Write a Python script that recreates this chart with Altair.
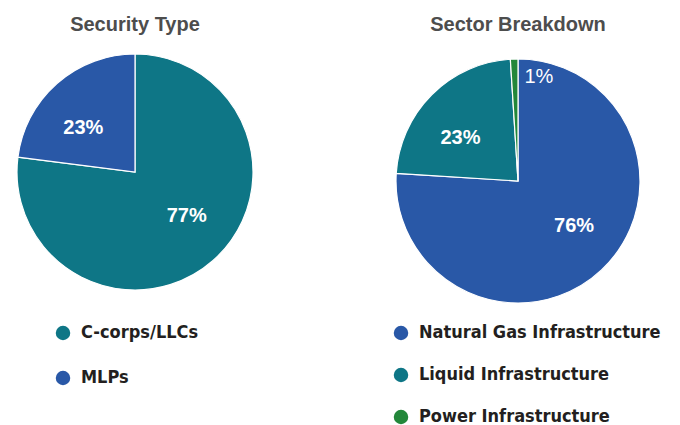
import altair as alt
import pandas as pd
import math

# ---- data ----
sec_types = ["C-corps/LLCs", "MLPs"]
sec_values = [77, 23]
sec_colors = ["#0e7686", "#2958a7"]

sectors = ["Natural Gas Infrastructure", "Liquid Infrastructure", "Power Infrastructure"]
sector_values = [76, 23, 1]
sector_colors = ["#2958a7", "#0e7686", "#23873a"]

df1 = pd.DataFrame({"cat": sec_types, "value": sec_values, "ord": range(len(sec_types))})
df2 = pd.DataFrame({"cat": sectors, "value": sector_values, "ord": range(len(sectors))})

LEG_FONT = "DejaVu Sans Condensed, Roboto, sans-serif"
TITLE_FONT = "Liberation Sans"
SHIFT = -0.14  # label angle rotation (radians)


def legend(x, y, rowpad):
    return alt.Legend(
        title=None, orient="none", legendX=x, legendY=y, direction="vertical",
        symbolType="circle", symbolSize=210, symbolStrokeWidth=0,
        labelFont=LEG_FONT, labelFontSize=18, labelFontWeight="bold",
        labelColor="#231f20", labelOffset=9, rowPadding=rowpad, padding=0,
        labelLimit=400,
    )


def pie(df, cats, colors, radius, label_r, w, h, title, leg):
    total = float(df["value"].sum())
    arcs = alt.Chart(df).mark_arc(radius=radius, stroke="white", strokeWidth=1.2).encode(
        theta=alt.Theta("value:Q", stack=True),
        order=alt.Order("ord:Q"),
        color=alt.Color("cat:N", scale=alt.Scale(domain=cats, range=colors),
                        sort=cats, legend=leg),
    )
    lab = alt.Chart(df).transform_window(
        cum="sum(value)", sort=[alt.SortField("ord")]
    ).transform_calculate(
        mid="datum.cum - datum.value / 2", lbl="datum.value + '%'"
    ).encode(
        theta=alt.Theta("mid:Q", stack=None,
                        scale=alt.Scale(domain=[0, total],
                                        range=[SHIFT, 2 * math.pi + SHIFT])),
        text="lbl:N",
    )
    big = lab.transform_filter("datum.value >= 5").mark_text(
        radius=label_r, color="white", font=TITLE_FONT, fontSize=20, fontWeight="bold")
    small = lab.transform_filter("datum.value < 5").mark_text(
        radius=radius - 16, dx=39, color="white", font=TITLE_FONT,
        fontSize=20, fontWeight="normal")
    return alt.layer(arcs, big, small).resolve_scale(theta="independent").properties(
        width=w, height=h,
        title=alt.TitleParams(title, font=TITLE_FONT, fontSize=20, fontWeight="bold",
                              color="#4d4d4d", anchor="middle", offset=10),
    )


left = pie(df1, sec_types, sec_colors, 118, 68, 254, 254, "Security Type",
           legend(46, 279, 27))
right = pie(df2, sectors, sector_colors, 122, 72, 260, 272, "Sector Breakdown",
            legend(4, 279, 24))

chart = alt.hconcat(left, right, spacing=126).resolve_scale(color="independent").properties(
    padding={"left": 0, "top": 7, "right": 0, "bottom": 0}
).configure_view(stroke=None)

chart.save("out.html", embed_options={"renderer": "svg", "actions": False})
